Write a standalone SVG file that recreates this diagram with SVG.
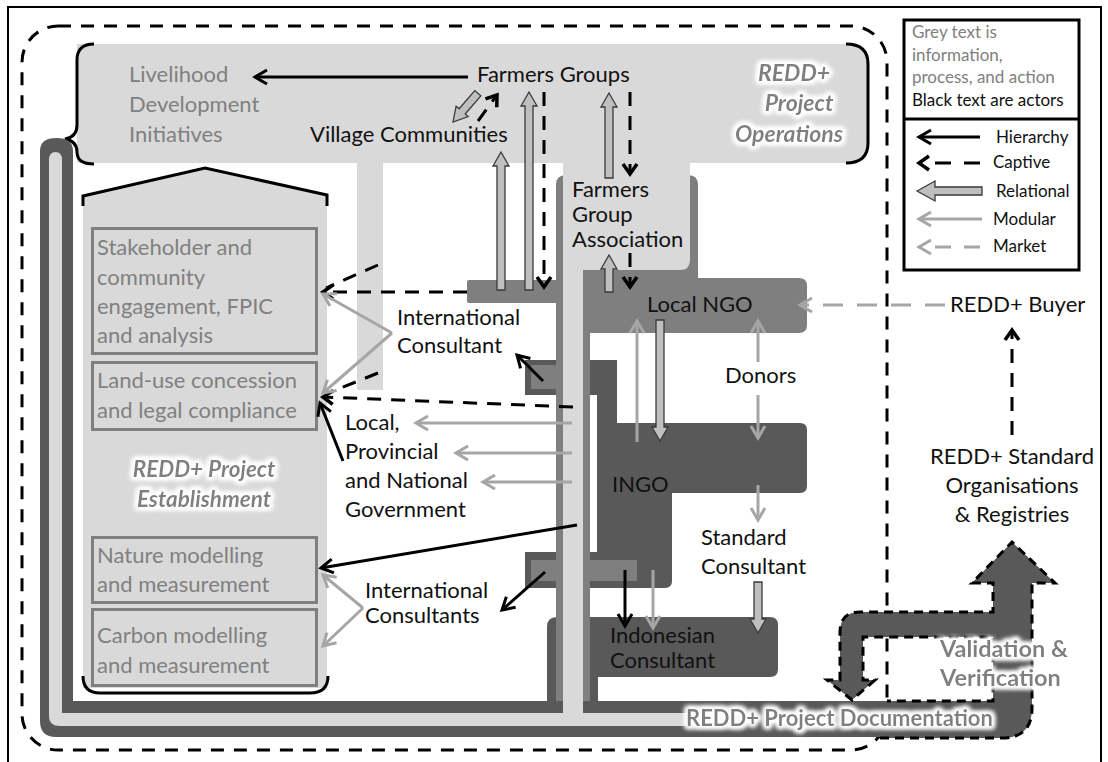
<svg xmlns="http://www.w3.org/2000/svg" width="1108" height="762" viewBox="0 0 1108 762">
  <style>
    text{font-family:Lato,"Liberation Sans",sans-serif}
    .t{font-size:22px;fill:#111}
    .g{font-size:22px;fill:#808080}
    .lg{font-size:17px}
    .gl{font-size:22.5px;font-weight:bold;fill:#7f7f7f}
    .it{font-style:italic}
    .lt{fill:#d9d9d9}
    .md{fill:#7f7f7f}
    .dk{fill:#595959}
    .box{fill:#d9d9d9;stroke:#7f7f7f;stroke-width:3}
    .hier{stroke:#000;stroke-width:3;fill:none;marker-end:url(#mH)}
    .capt{stroke:#000;stroke-width:3;fill:none;stroke-dasharray:14 10;marker-end:url(#mC)}
    .dash{stroke:#000;stroke-width:3;fill:none;stroke-dasharray:14 10}
    .mod{stroke:#a6a6a6;stroke-width:3;fill:none;marker-end:url(#mM)}
    .mkt{stroke:#a6a6a6;stroke-width:3;fill:none;stroke-dasharray:20 14;marker-end:url(#mM)}
    .rel{fill:#bfbfbf;stroke:#3a3a3a;stroke-width:1.3}
    .ln{stroke:#000;stroke-width:3;fill:none}
  </style>
  <defs>
    <marker id="mH" markerUnits="userSpaceOnUse" markerWidth="20" markerHeight="20" refX="0" refY="0" orient="auto" overflow="visible">
      <path d="M-12,-7 L0,0 L-12,7" fill="none" stroke="#000" stroke-width="3"/>
    </marker>
    <marker id="mC" markerUnits="userSpaceOnUse" markerWidth="20" markerHeight="20" refX="0" refY="0" orient="auto" overflow="visible">
      <path d="M-10,-7 L0,0 L-10,7" fill="none" stroke="#000" stroke-width="3.5"/>
    </marker>
    <marker id="mM" markerUnits="userSpaceOnUse" markerWidth="20" markerHeight="20" refX="0" refY="0" orient="auto" overflow="visible">
      <path d="M-12,-7 L0,0 L-12,7" fill="none" stroke="#a6a6a6" stroke-width="3"/>
    </marker>
    <!-- soft white halo behind the region titles -->
    <filter id="glow" x="-10%" y="-40%" width="120%" height="180%">
      <feMorphology in="SourceAlpha" operator="dilate" radius="2.2" result="d"/>
      <feGaussianBlur in="d" stdDeviation="2.4" result="b"/>
      <feFlood flood-color="#ffffff"/>
      <feComposite in2="b" operator="in" result="g"/>
      <feMerge><feMergeNode in="g"/><feMergeNode in="g"/><feMergeNode in="g"/><feMergeNode in="SourceGraphic"/></feMerge>
    </filter>
  </defs>

  <!-- outer frame and project boundary -->
  <g id="frame">
    <rect x="8" y="7" width="1093" height="770" fill="none" stroke="#000" stroke-width="2"/>
    <rect x="22" y="26" width="865" height="724" rx="36" fill="none" stroke="#000" stroke-width="3" stroke-dasharray="13 10"/>
  </g>

  <!-- REDD+ project operations band -->
  <g id="operations">
    <path class="lt" d="M77,44 H848 Q868,44 868,64 V143 Q868,163 848,163 H77 Z"/>
    <path class="ln" d="M846,44 Q868,44 868,64 V143 Q868,163 846,163"/>
    <path class="ln" d="M94,44 Q77,44 77,60 V125 Q77,137 65,139 Q77,141 77,152 Q77,164 94,164"/>
    <rect class="lt" x="357" y="160" width="26" height="230"/>
    <g filter="url(#glow)">
      <text class="gl it" x="794" y="81" text-anchor="middle" style="font-size:23px">REDD+</text>
      <text class="gl it" x="799" y="111" text-anchor="middle" style="font-size:23px">Project</text>
      <text class="gl it" x="789" y="142" text-anchor="middle" style="font-size:23px">Operations</text>
    </g>
  </g>

  <g id="livelihood">
    <text class="g" x="129" y="82">Livelihood</text>
    <text class="g" x="129" y="112">Development</text>
    <text class="g" x="129" y="142">Initiatives</text>
  </g>
  <g id="farmers-groups"><text class="t" x="477" y="82">Farmers Groups</text></g>
  <g id="village-communities"><text class="t" x="310" y="142">Village Communities</text></g>

  <!-- REDD+ project establishment -->
  <g id="establishment">
    <polygon class="lt" points="83,197 205,169 327,196 327,688 83,688"/>
    <polyline class="ln" points="83,206 83,196 205,168 327,195 327,206"/>
    <path class="ln" d="M83,676 Q83,693 100,693 H310 Q328,693 328,676"/>
    <g filter="url(#glow)">
      <text class="gl it" x="204" y="477" text-anchor="middle">REDD+ Project</text>
      <text class="gl it" x="204" y="507" text-anchor="middle">Establishment</text>
    </g>
  </g>
  <g id="stakeholder">
    <rect class="box" x="92.5" y="228.5" width="224" height="125"/>
    <text class="g" x="97" y="255">Stakeholder and</text>
    <text class="g" x="97" y="285">community</text>
    <text class="g" x="97" y="314">engagement, FPIC</text>
    <text class="g" x="97" y="343">and analysis</text>
  </g>
  <g id="land-use">
    <rect class="box" x="92.5" y="362.5" width="224" height="67"/>
    <text class="g" x="97" y="388">Land-use concession</text>
    <text class="g" x="97" y="418">and legal compliance</text>
  </g>
  <g id="nature">
    <rect class="box" x="92.5" y="537.5" width="224" height="65"/>
    <text class="g" x="97" y="563">Nature modelling</text>
    <text class="g" x="97" y="592">and measurement</text>
  </g>
  <g id="carbon">
    <rect class="box" x="92.5" y="609.5" width="224" height="76"/>
    <text class="g" x="97" y="643">Carbon modelling</text>
    <text class="g" x="97" y="673">and measurement</text>
  </g>

  <!-- documentation pipe -->
  <g id="documentation">
    <path class="dk" d="M40,151 Q40,138 56.5,138 Q73,138 73,151 V701 H905 V737 H56 Q40,737 40,721 Z"/>
    <path class="lt" d="M49,160 Q49,152 55.5,152 Q62,152 62,160 V713 H700 V726 H60 Q49,726 49,716 Z"/>
  </g>

  <!-- farmers group association and local NGO -->
  <g id="local-ngo">
    <path class="md" d="M556,701 V185 Q556,175 566,175 H688 Q698,175 698,185 V278 H799 Q807,278 807,286 V325 Q807,333 799,333 H590 V701 Z"/>
    <text class="t" x="647" y="312">Local NGO</text>
  </g>
  <g id="intl-consultant-bar">
    <rect class="md" x="467" y="280" width="92" height="23" rx="2"/>
  </g>
  <g id="ingo">
    <path class="dk" d="M590,360 H617 V423 H800 Q807,423 807,430 V486 Q807,493 800,493 H672 V581 Q672,588 665,588 H590 V552 H597 V395 H590 Z"/>
    <rect class="dk" x="525" y="360" width="31" height="35"/>
    <rect class="md" x="531" y="365" width="25" height="24"/>
    <rect class="dk" x="525" y="552" width="31" height="36"/>
    <rect class="md" x="531" y="560" width="25" height="21"/>
    <rect class="md" x="590" y="560" width="47" height="21"/>
    <text class="t" x="612" y="492">INGO</text>
  </g>
  <g id="indonesian-consultant">
    <path class="dk" d="M547,701 V627 Q547,617 557,617 H770 Q778,617 778,625 V669 Q778,677 770,677 H598 V701 Z"/>
    <text class="t" x="610" y="643">Indonesian</text>
    <text class="t" x="610" y="668">Consultant</text>
  </g>
  <g id="central-pipe">
    <rect class="md" x="556" y="300" width="34" height="401"/>
    <path class="lt" d="M563,160 H690 V260 Q690,270 680,270 H583 V720 H563 Z"/>
  </g>
  <g id="fga">
    <text class="t" x="572" y="197">Farmers</text>
    <text class="t" x="572" y="222">Group</text>
    <text class="t" x="572" y="247">Association</text>
  </g>

  <!-- validation and verification loop -->
  <g id="validation">
    <path class="dk" d="M880,701 H993 V637 H863 V680 H875 L852,700 L827,680 H840 V632 Q840,612 860,612 H993 V583 H972 L1012,542 L1055,583 H1032 V708 Q1032,738 1002,738 H880 Z"/>
    <path fill="none" stroke="#000" stroke-width="3" stroke-dasharray="9 6" d="M880,738 H1002 Q1032,738 1032,708 V583 H1055 L1012,542 L972,583 H993 V612 H860 Q840,612 840,632 V680 H827 L852,700 L875,680 H863 V637 H993 V701 H887"/>
    <g filter="url(#glow)">
      <text class="gl" x="940" y="657" style="font-size:23.5px">Validation &amp;</text>
      <text class="gl" x="940" y="686" style="font-size:23.5px">Verification</text>
      <text class="gl" x="686" y="726" style="font-size:22px">REDD+ Project Documentation</text>
    </g>
  </g>

  <g id="intl-consultant">
    <text class="t" x="397" y="325">International</text>
    <text class="t" x="397" y="353">Consultant</text>
  </g>
  <g id="government">
    <text class="t" x="345" y="430">Local,</text>
    <text class="t" x="345" y="459">Provincial</text>
    <text class="t" x="345" y="488">and National</text>
    <text class="t" x="345" y="517">Government</text>
  </g>
  <g id="intl-consultants">
    <text class="t" x="365" y="598">International</text>
    <text class="t" x="365" y="623">Consultants</text>
  </g>
  <g id="donors"><text class="t" x="725" y="383">Donors</text></g>
  <g id="standard-consultant">
    <text class="t" x="701" y="545">Standard</text>
    <text class="t" x="701" y="574">Consultant</text>
  </g>
  <g id="buyer"><text class="t" x="950" y="312">REDD+ Buyer</text></g>
  <g id="standards">
    <text class="t" x="1012" y="464" text-anchor="middle">REDD+ Standard</text>
    <text class="t" x="1012" y="493" text-anchor="middle">Organisations</text>
    <text class="t" x="1012" y="522" text-anchor="middle">&amp; Registries</text>
  </g>

  <!-- connectors -->
  <g id="connectors">
    <path class="hier" d="M468,77 H255"/>
    <path class="capt" d="M478,121 L497,95"/>
    <path class="rel" transform="translate(453,122) rotate(-49.2)" d="M0,0 L14,-8 L14,-4 L38,-4 L38,4 L14,4 L14,8 Z"/>
    <path class="capt" d="M544,92 V287"/>
    <path class="rel" transform="translate(529,92) rotate(90)" d="M0,0 L14,-8 L14,-4 L198,-4 L198,4 L14,4 L14,8 Z"/>
    <path class="rel" transform="translate(501,152) rotate(90)" d="M0,0 L14,-8 L14,-4 L138,-4 L138,4 L14,4 L14,8 Z"/>
    <path class="rel" transform="translate(609,93) rotate(90)" d="M0,0 L14,-8 L14,-4 L85,-4 L85,4 L14,4 L14,8 Z"/>
    <path class="capt" d="M630,92 V174"/>
    <path class="rel" transform="translate(609,255) rotate(90)" d="M0,0 L14,-8 L14,-4 L37,-4 L37,4 L14,4 L14,8 Z"/>
    <path class="capt" d="M630,253 V287"/>
    <path class="capt" d="M467,292 H323"/>
    <path class="dash" d="M378,265 L326,288"/>
    <path class="capt" d="M573,407 L323,397"/>
    <path class="dash" d="M378,373 L326,394"/>
    <path class="mod" d="M392,333 L323,294"/>
    <path class="mod" d="M392,333 L323,393"/>
    <path class="hier" d="M543,381 L517,355"/>
    <path class="hier" d="M343,461 L320,403"/>
    <path class="mod" d="M572,423 H416"/>
    <path class="mod" d="M572,453 H456"/>
    <path class="mod" d="M572,482 H483"/>
    <path class="hier" d="M577,525 L321,568"/>
    <path class="mod" d="M363,608 L323,575"/>
    <path class="mod" d="M363,608 L323,646"/>
    <path class="hier" d="M545,572 L502,610"/>
    <path class="mod" d="M637,442 V321"/>
    <path class="rel" transform="translate(660,441) rotate(-90)" d="M0,0 L14,-8 L14,-4 L121,-4 L121,4 L14,4 L14,8 Z"/>
    <path class="mod" d="M758,362 V321"/>
    <path class="mod" d="M758,395 V438"/>
    <path class="mod" d="M758,485 V520"/>
    <path class="rel" transform="translate(758,633) rotate(-90)" d="M0,0 L14,-8 L14,-4 L51,-4 L51,4 L14,4 L14,8 Z"/>
    <path class="hier" d="M625,570 V626"/>
    <path class="mod" d="M653,570 V628"/>
    <path class="mkt" d="M945,305 H800"/>
    <path class="capt" d="M1012,435 V330"/>
  </g>

  <!-- key -->
  <g id="legend">
    <rect x="904" y="20" width="175" height="250" fill="#fff" stroke="#000" stroke-width="3"/>
    <line x1="904" y1="119" x2="1079" y2="119" stroke="#000" stroke-width="3"/>
    <text class="lg" x="912" y="38" fill="#808080">Grey text is</text>
    <text class="lg" x="912" y="61" fill="#808080">information,</text>
    <text class="lg" x="912" y="83" fill="#808080">process, and action</text>
    <text class="lg" x="912" y="106" fill="#111">Black text are actors</text>
    <path class="hier" d="M980,137 H919"/>
    <path class="capt" d="M980,163 H919" style="stroke-dasharray:16 13"/>
    <path class="rel" transform="translate(917,191)" d="M0,0 L18,-10 L18,-4 L65,-4 L65,4 L18,4 L18,10 Z"/>
    <path class="mod" d="M982,219 H919"/>
    <path class="mkt" d="M980,247 H919" style="stroke-dasharray:16 13"/>
    <text class="lg" x="996" y="143" fill="#111">Hierarchy</text>
    <text class="lg" x="993" y="168" fill="#111">Captive</text>
    <text class="lg" x="996" y="197" fill="#111">Relational</text>
    <text class="lg" x="993" y="225" fill="#111">Modular</text>
    <text class="lg" x="993" y="252" fill="#111">Market</text>
  </g>
</svg>
